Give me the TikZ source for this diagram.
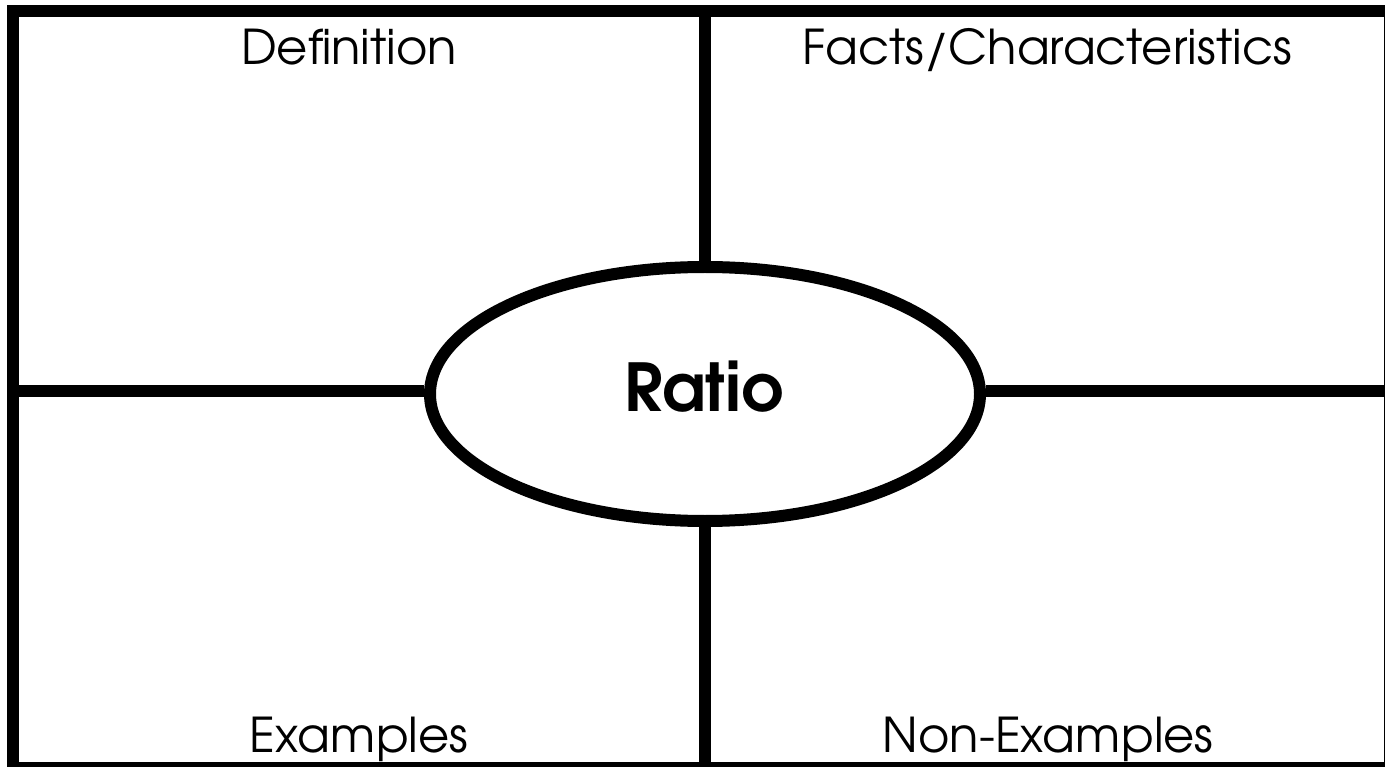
\documentclass[tikz,border=0pt]{standalone}
\usepackage{fontspec}
\setmainfont{TeX Gyre Adventor}
\usetikzlibrary{shapes.geometric}
\tikzset{
  thick line/.style={line width=12pt, line cap=butt},
  label text/.style={font=\fontsize{48}{52}\selectfont, anchor=base, inner sep=0pt},
  center oval/.style={ellipse, draw, line width=12pt, minimum width=550pt, minimum height=254pt, inner sep=0pt, fill=white}
}
\begin{document}
\begin{tikzpicture}[x=1pt,y=-1pt]
\useasboundingbox (0,0) rectangle (1385,767);
\fill[white] (0,0) rectangle (1385,767);
\begin{scope}
\clip (0,0) rectangle (1385,767);
\draw[thick line] (13,11) rectangle (1390,768);
\coordinate (topmid) at (705,11);
\coordinate (botmid) at (705,768);
\coordinate (leftmid) at (13,391);
\coordinate (rightmid) at (1390,391);
\node[center oval] (ratio) at (705,394) {};
\draw[thick line] (topmid) -- (ratio.north);
\draw[thick line] (ratio.south) -- (botmid);
\draw[thick line] (leftmid) -- (leftmid -| ratio.west);
\draw[thick line] (rightmid -| ratio.east) -- (rightmid);
\node[font=\bfseries\fontsize{66}{70}\selectfont, anchor=base, inner sep=0pt] (ratiotext) at (704,412) {Ratio};
\node[label text] (def) at (349,65) {Definition};
\node[label text] (facts) at (1047,65) {Facts/Characteristics};
\node[label text] (ex) at (359,752) {Examples};
\node[label text] (nonex) at (1048,752) {Non-Examples};
\end{scope}
\end{tikzpicture}
\end{document}
